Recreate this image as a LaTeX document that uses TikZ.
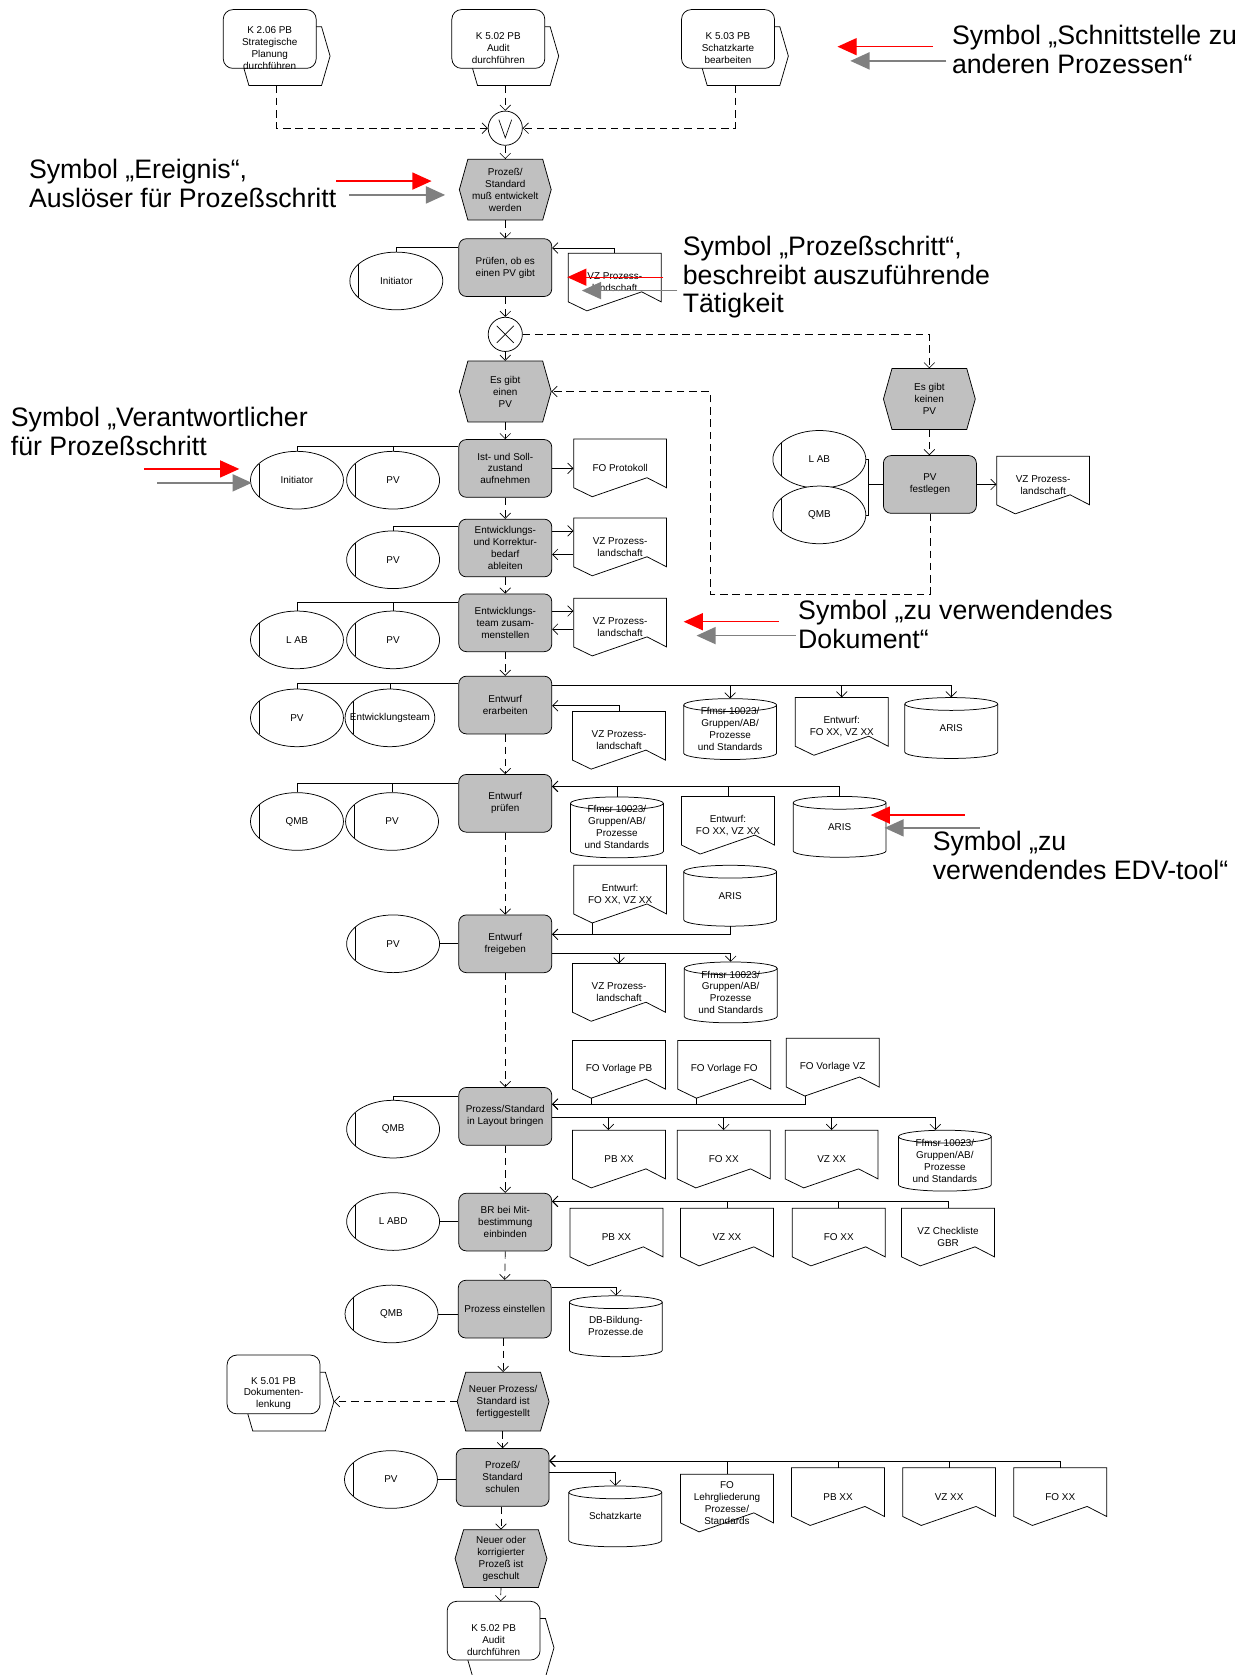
\documentclass[tikz,border=0pt]{standalone}
\usepackage{fontspec}
\setmainfont{Liberation Sans}
\usetikzlibrary{arrows.meta,calc,shapes.geometric}
\definecolor{fgray}{HTML}{C0C0C0}
\definecolor{agray}{HTML}{808080}
\tikzset{
 shp/.style={draw=black,fill=white,line width=0.7pt},
 txt/.style={font=\fontsize{9.3}{11.2}\selectfont,align=center,inner sep=0pt},
 func/.style={shp,fill=fgray,rounded corners=7pt,minimum width=87pt,minimum height=54pt,txt},
 orgst/.style={shp,ellipse,minimum height=54pt,inner sep=0pt},
 conn/.style={shp,circle,minimum size=32pt,inner sep=0pt},
 ln/.style={draw=black,line width=0.6pt},
 arr/.style={ln,-{Straight Barb[length=5pt,width=10pt]}},
 flow/.style={arr,dash pattern=on 7pt off 4.5pt},
 redarr/.style={draw=red,line width=1.3pt,-{Triangle[length=18pt,width=16pt]}},
 grayarr/.style={draw=agray,line width=1.6pt,-{Triangle[length=18pt,width=16pt]}},
 anno/.style={font=\fontsize{25}{28}\selectfont,inner sep=0pt,anchor=base west},
}
\newcommand\mkintf[4]{%
 \filldraw[shp] (#2+16,#3+43.5) -- (#2+24,#3+16) -- (#2+92,#3+16) -- (#2+100,#3+43.5) -- (#2+92,#3+71) -- (#2+24,#3+71) -- cycle;
 \node[shp,rounded corners=9pt,minimum width=87pt,minimum height=55pt,inner sep=0pt] (#1) at (#2+43.5,#3+27.5) {};
 \node[txt] (#1-txt) at (#2+43.5,#3+36) {#4};
 \coordinate (#1-b) at (#2+50,#3+71);
 \coordinate (#1-r) at (#2+100,#3+43.5);
 \coordinate (#1-t) at (#2+50,#3);}
\newcommand\mkevt[5]{%
 \filldraw[shp,fill=fgray] (#2-43,#3) -- (#2-35,#3-#4/2) -- (#2+35,#3-#4/2) -- (#2+43,#3) -- (#2+35,#3+#4/2) -- (#2-35,#3+#4/2) -- cycle;
 \node[txt,minimum width=86pt,minimum height=#4pt] (#1) at (#2,#3) {#5};}
\newcommand\mkdoc[4]{%
 \filldraw[shp] (#2,#3) -- (#2+87,#3) -- (#2+87,#3+45.6) -- (#2+68.7,#3+36.2) -- (#2+17.4,#3+54) -- (#2,#3+45.6) -- cycle;
 \node[txt,minimum width=87pt,minimum height=54pt] (#1) at (#2+43.5,#3+27) {#4};
 \coordinate (#1-b) at (#2+17.4,#3+54);}
\newcommand\mkcyl[4]{%
 \filldraw[shp] (#2,#3+6) -- (#2,#3+51) arc[start angle=180,end angle=360,x radius=43.5pt,y radius=6pt] -- (#2+87,#3+6) arc[start angle=0,end angle=180,x radius=43.5pt,y radius=6pt] -- cycle;
 \draw[shp,fill=none] (#2,#3+6) arc[start angle=180,end angle=360,x radius=43.5pt,y radius=6pt];
 \node[txt,minimum width=87pt,minimum height=57pt] (#1) at (#2+43.5,#3+28.5) {#4};}
\newcommand\mkorg[5][87]{%
 \node[orgst,minimum width=#1pt] (#2) at (#3,#4) {};
 \draw[ln] (#3-#1/2+8,#4-15.5) -- (#3-#1/2+8,#4+15.5);
 \node[txt] (#2-t) at (#3,#4) {#5};}
\begin{document}
\begin{tikzpicture}[x=1pt,y=-1pt]
\path[fill=white,use as bounding box] (0,0) rectangle (1164,1568);

% ---------- interfaces
\mkintf{k206}{209}{9}{K 2.06 PB\\Strategische\\Planung\\durchführen}
\mkintf{k502}{423}{9}{K 5.02 PB\\Audit\\durchführen}
\mkintf{k503}{638}{9}{K 5.03 PB\\Schatzkarte\\bearbeiten}
\mkintf{k501}{212.6}{1268.5}{K 5.01 PB\\Dokumenten-\\lenkung}
\mkintf{k502b}{418.6}{1499}{K 5.02 PB\\Audit\\durchführen}

% ---------- connectors
\node[conn] (or1) at (473,120) {};
\draw[ln] ([shift={(-6pt,8pt)}]or1.center) -- ([yshift=-9pt]or1.center) -- ([shift={(6pt,8pt)}]or1.center);
\node[conn] (xor1) at (473,313) {};
\draw[ln] ([shift={(-8pt,8pt)}]xor1.center) -- ([shift={(8pt,-8pt)}]xor1.center);
\draw[ln] ([shift={(-8pt,-8pt)}]xor1.center) -- ([shift={(8pt,8pt)}]xor1.center);

% ---------- events
\mkevt{e1}{473}{177.5}{57}{Prozeß/\\Standard\\muß entwickelt\\werden}
\mkevt{e2}{473}{366.5}{57}{Es gibt\\einen\\PV}
\mkevt{e3}{870}{373.5}{57}{Es gibt\\keinen\\PV}
\mkevt{e4}{471}{1312}{55}{Neuer Prozess/\\Standard ist\\fertiggestellt}
\mkevt{e5}{469}{1459}{54}{Neuer oder\\korrigierter\\Prozeß ist\\geschult}

% ---------- functions
\node[func] (f1) at (473,250.5) {Prüfen, ob es\\einen PV gibt};
\node[func] (f2) at (473,438.5) {Ist- und Soll-\\zustand\\aufnehmen};
\node[func] (f3) at (473,513) {Entwicklungs-\\und Korrektur-\\bedarf\\ableiten};
\node[func] (f4) at (473,583) {Entwicklungs-\\team zusam-\\menstellen};
\node[func] (f5) at (473,660) {Entwurf\\erarbeiten};
\node[func] (f6) at (473,752) {Entwurf\\prüfen};
\node[func] (f7) at (473,883.5) {Entwurf\\freigeben};
\node[func] (f8) at (473,1045) {Prozess/Standard\\in Layout bringen};
\node[func] (f9) at (473,1144) {BR bei Mit-\\bestimmung\\einbinden};
\node[func] (f10) at (472.5,1225.5) {Prozess einstellen};
\node[func] (f11) at (470.5,1383) {Prozeß/\\Standard\\schulen};
\node[func] (fpv) at (870.5,453.5) {PV\\festlegen};

% ---------- organisational units
\mkorg{o1}{371}{263}{Initiator}
\mkorg{o2}{278}{449.5}{Initiator}
\mkorg{o3}{368}{449.5}{PV}
\mkorg{o4}{368}{524}{PV}
\mkorg{o5}{278}{599}{L AB}
\mkorg{o6}{368}{599}{PV}
\mkorg{o7}{278}{672}{PV}
\mkorg[84]{o8}{365}{672}{Entwicklungsteam}
\mkorg{o9}{278}{769}{QMB}
\mkorg{o10}{367}{769}{PV}
\mkorg{o11}{368}{883.5}{PV}
\mkorg{o12}{368}{1057}{QMB}
\mkorg{o13}{368}{1143.5}{L ABD}
\mkorg{o14}{366.5}{1230}{QMB}
\mkorg{o15}{366}{1385}{PV}
\mkorg{o16}{767}{430}{L AB}
\mkorg{o17}{767}{482}{QMB}

% ---------- documents
\mkdoc{d1}{532}{237}{VZ Prozess-\\landschaft}
\mkdoc{d2}{537}{411}{FO Protokoll}
\mkdoc{d3}{537}{485}{VZ Prozess-\\landschaft}
\mkdoc{d4}{537}{560}{VZ Prozess-\\landschaft}
\mkdoc{d5}{744.5}{653}{Entwurf:\\FO XX, VZ XX}
\mkdoc{d6}{536}{666}{VZ Prozess-\\landschaft}
\mkdoc{d7}{638}{745.5}{Entwurf:\\FO XX, VZ XX}
\mkdoc{d8}{537}{810}{Entwurf:\\FO XX, VZ XX}
\mkdoc{d9}{536}{902}{VZ Prozess-\\landschaft}
\mkdoc{d10}{536}{974}{FO Vorlage PB}
\mkdoc{d11}{634.5}{974}{FO Vorlage FO}
\mkdoc{d12}{736}{972}{FO Vorlage VZ}
\mkdoc{d13}{536}{1058}{PB XX}
\mkdoc{d14}{634}{1058}{FO XX}
\mkdoc{d15}{735}{1058}{VZ XX}
\mkdoc{d16}{533.6}{1131}{PB XX}
\mkdoc{d17}{637}{1131}{VZ XX}
\mkdoc{d18}{741.7}{1131}{FO XX}
\mkdoc{d19}{844}{1131}{VZ Checkliste\\GBR}
\mkdoc{d20}{637}{1380}{FO\\Lehrgliederung\\Prozesse/\\Standards}
\mkdoc{d21}{741}{1374}{PB XX}
\mkdoc{d22}{845}{1374}{VZ XX}
\mkdoc{d23}{949}{1374}{FO XX}
\mkdoc{dpv}{933}{427}{VZ Prozess-\\landschaft}

% ---------- EDV tools
\mkcyl{c1}{640}{654}{Ffmsr 10023/\\Gruppen/AB/\\Prozesse\\und Standards}
\mkcyl{c2}{847}{653}{ARIS}
\mkcyl{c3}{534}{746}{Ffmsr 10023/\\Gruppen/AB/\\Prozesse\\und Standards}
\mkcyl{c4}{742.5}{745.5}{ARIS}
\mkcyl{c5}{640}{810}{ARIS}
\mkcyl{c6}{640.5}{900.5}{Ffmsr 10023/\\Gruppen/AB/\\Prozesse\\und Standards}
\mkcyl{c7}{841}{1058}{Ffmsr 10023/\\Gruppen/AB/\\Prozesse\\und Standards}
\mkcyl{c8}{533}{1213}{DB-Bildung-\\Prozesse.de}
\mkcyl{c9}{532.5}{1391}{Schatzkarte}

% ---------- control flow
\draw[flow] (k206-b) |- (or1.west);
\draw[flow] (k503-b) |- (or1.east);
\draw[flow] (k502-b) -- (or1.north);
\draw[flow] (or1.south) -- (e1.north);
\draw[flow] (e1.south) -- (f1.north);
\draw[flow] (f1.south) -- (xor1.north);
\draw[flow] (xor1.south) -- (e2.north);
\draw[flow] (xor1.east) -| (e3.north);
\draw[flow] (e3.south) -- (e3.south |- fpv.north);
\coordinate (cA) at (665,556);
\draw[flow] (fpv.south) |- (cA) |- (e2.east);
\draw[flow] (e2.south) -- (f2.north);
\draw[flow] (f2.south) -- (f3.north);
\draw[flow] (f3.south) -- (f4.north);
\draw[flow] (f4.south) -- (f5.north);
\draw[flow] (f5.south) -- (f6.north);
\draw[flow] (f6.south) -- (f7.north);
\draw[flow] (f7.south) -- (f8.north);
\draw[flow] (f8.south) -- (f9.north);
\draw[flow] (f9.south) -- (f10.north);
\draw[flow] (f10.south -| e4.north) -- (e4.north);
\draw[flow] (e4.west) -- (k501-r);
\draw[flow] (e4.south -| f11.north) -- (f11.north);
\draw[flow] (f11.south -| e5.north) -- (e5.north);
\draw[flow] (e5.south) -- (k502b-t);

% ---------- org unit links
\draw[ln] (o1.north) |- ([yshift=-8pt]f1.north west);
\draw[ln] (o2.north) |- ([yshift=-7pt]f2.north west);
\draw[ln] (o3.north) |- ([yshift=-7pt]f2.north west);
\draw[ln] (o4.north) |- ([yshift=-7.5pt]f3.north west);
\draw[ln] (o5.north) |- ([yshift=-8pt]f4.north west);
\draw[ln] (o6.north) |- ([yshift=-8pt]f4.north west);
\draw[ln] (o7.north) |- ([yshift=-7pt]f5.north west);
\draw[ln] (o8.north) |- ([yshift=-7pt]f5.north west);
\draw[ln] (o9.north) |- ([yshift=-9pt]f6.north west);
\draw[ln] (o10.north) |- ([yshift=-9pt]f6.north west);
\draw[ln] (o11.east) -- (f7.west);
\draw[ln] (o12.north) |- ([yshift=-9pt]f8.north west);
\draw[ln] (o13.east) -- (o13.east -| f9.west);
\draw[ln] (o14.east) -- (o14.east -| f10.west);
\draw[ln] (o15.east) -- (o15.east -| f11.west);
\coordinate (jpv) at (813,453.5);
\draw[ln] (o16.east) -| (jpv) |- (o17.east);
\draw[ln] (jpv) -- (fpv.west);

% ---------- document / tool links
\draw[arr] (d1.north) |- ([yshift=-9pt]f1.north east);
\draw[arr] (f2.east) -- (f2.east -| d2.west);
\draw[arr] ([yshift=16pt]f3.east) -- ([yshift=16pt]f3.east -| d3.west);
\draw[arr] ([yshift=-6pt]f3.east -| d3.west) -- ([yshift=-6pt]f3.east);
\draw[arr] ([yshift=11pt]f4.east) -- ([yshift=11pt]f4.east -| d4.west);
\draw[arr] ([yshift=-6pt]f4.east -| d4.west) -- ([yshift=-6pt]f4.east);
\draw[arr] (fpv.east) -- (fpv.east -| dpv.west);
\draw[arr] ([yshift=-9pt]f5.north east) -| (c1.north);
\draw[arr] ([yshift=-9pt]f5.north east) -| (d5.north);
\draw[arr] ([yshift=-9pt]f5.north east) -| (c2.north);
\draw[arr] (d6.north) |- ([yshift=-28pt]f5.north east);
\draw[arr] (c3.north) |- ([yshift=-11.5pt]f6.north east);
\draw[arr] (d7.north) |- ([yshift=-11.5pt]f6.north east);
\draw[arr] (c4.north) |- ([yshift=-11.5pt]f6.north east);
\draw[arr] (d8-b) |- ([yshift=-18.5pt]f7.north east);
\draw[arr] (c5.south) |- ([yshift=-18.5pt]f7.north east);
\draw[arr] ([yshift=-36.5pt]f7.north east) -| (d9.north);
\draw[arr] ([yshift=-36.5pt]f7.north east) -| (c6.north);
\draw[arr] (d10-b) |- ([yshift=-16pt]f8.north east);
\draw[arr] (d11-b) |- ([yshift=-16pt]f8.north east);
\draw[arr] (d12-b) |- ([yshift=-16pt]f8.north east);
\draw[arr] ([yshift=-28pt]f8.north east) -| ([xshift=-10pt]d13.north);
\draw[arr] ([yshift=-28pt]f8.north east) -| (d14.north);
\draw[arr] ([yshift=-28pt]f8.north east) -| (d15.north);
\draw[arr] ([yshift=-28pt]f8.north east) -| ([xshift=-9pt]c7.north);
\draw[arr] (d17.north) |- ([yshift=-8pt]f9.north east);
\draw[arr] (d18.north) |- ([yshift=-8pt]f9.north east);
\draw[arr] (d19.north) |- ([yshift=-8pt]f9.north east);
\draw[arr] ([yshift=-7pt]f10.north east) -| (c8.north);
\draw[arr] ([yshift=-23pt]f11.north east) -| (c9.north);
\draw[arr] (d20.north) |- ([yshift=-12pt]f11.north east);
\draw[arr] (d21.north) |- ([yshift=-12pt]f11.north east);
\draw[arr] (d22.north) |- ([yshift=-12pt]f11.north east);
\draw[arr] (d23.north) |- ([yshift=-12pt]f11.north east);

% ---------- annotations
\node[anno] (a1a) at (891,42) {Symbol „Schnittstelle zu};
\node[anno] (a1b) at (891,69) {anderen Prozessen“};
\node[anno] (a2a) at (27,167) {Symbol „Ereignis“,};
\node[anno] (a2b) at (27,194) {Auslöser für Prozeßschritt};
\node[anno] (a3a) at (639,239) {Symbol „Prozeßschritt“,};
\node[anno] (a3b) at (639,266) {beschreibt auszuführende};
\node[anno] (a3c) at (639,293) {Tätigkeit};
\node[anno] (a4a) at (10,399.5) {Symbol „Verantwortlicher};
\node[anno] (a4b) at (10,426.5) {für Prozeßschritt};
\node[anno] (a5a) at (747,580) {Symbol „zu verwendendes};
\node[anno] (a5b) at (747,607) {Dokument“};
\node[anno] (a6a) at (873,796) {Symbol „zu};
\node[anno] (a6b) at (873,823) {verwendendes EDV-tool“};

\coordinate (r1s) at (873.6,43.7); \coordinate (r1e) at (784,43.7);
\coordinate (g1s) at (886,57); \coordinate (g1e) at (796,57);
\coordinate (r2s) at (314.6,169.5); \coordinate (r2e) at (404,169.5);
\coordinate (g2s) at (327,182.5); \coordinate (g2e) at (416.7,182.5);
\coordinate (r3s) at (621,259.5); \coordinate (r3e) at (531,259.5);
\coordinate (g3s) at (634,272); \coordinate (g3e) at (544.7,272);
\coordinate (r4s) at (135,439); \coordinate (r4e) at (224,439);
\coordinate (g4s) at (147,452); \coordinate (g4e) at (235.7,452);
\coordinate (r5s) at (729,582); \coordinate (r5e) at (640,582);
\coordinate (g5s) at (745,595); \coordinate (g5e) at (652,595);
\coordinate (r6s) at (903,763); \coordinate (r6e) at (815,763);
\coordinate (g6s) at (917,775); \coordinate (g6e) at (828,775);
\foreach \i in {1,...,6}{
 \draw[redarr] (r\i s) -- (r\i e);
 \draw[grayarr] (g\i s) -- (g\i e);
}
\end{tikzpicture}
\end{document}
